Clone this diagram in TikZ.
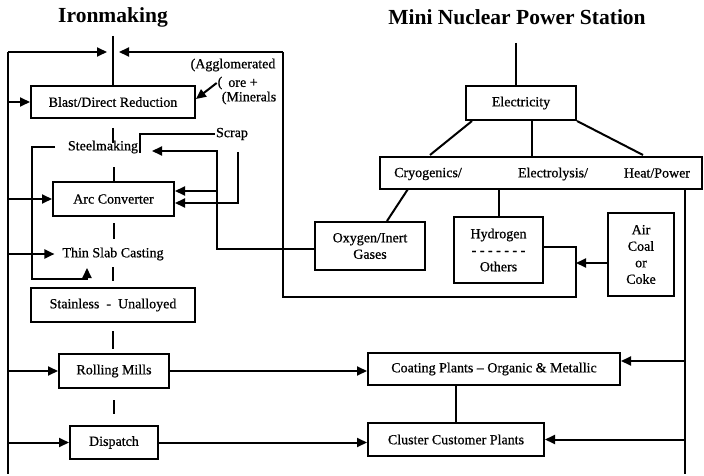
\documentclass[tikz,border=0pt]{standalone}
\usepackage{fontspec}
\setmainfont{Liberation Serif}
\newfontfamily\scanfont{Liberation Serif}[FakeBold=0.7, Ligatures=TeX]
\usetikzlibrary{arrows.meta, positioning}

\begin{document}
\begin{tikzpicture}[x=1pt, y=-1pt, line width=2pt,
    >={Triangle[length=10pt,width=9pt]},
    box/.style={draw, inner sep=0pt, align=center, font=\scanfont\fontsize{14}{16.5}\selectfont},
    lbl/.style={inner sep=0pt, align=center, font=\scanfont\fontsize{14}{16.5}\selectfont},
    ttl/.style={inner sep=0pt, font=\fontsize{21.5}{24}\selectfont\bfseries}]
  \useasboundingbox (0,0) rectangle (704,476);

  % titles
  \node[ttl] (iron) at (113,17) {Ironmaking};
  \node[ttl] (mini) at (517,17) {Mini Nuclear Power Station};

  % steel line, top to bottom
  \node[box, minimum width=164pt, minimum height=32pt] (blast) at (113,102) {Blast/Direct Reduction};
  \node[lbl] (steel) at (103,147) {Steelmaking};
  \node[lbl] (scrap) at (232,134) {Scrap};
  \node[box, minimum width=121pt, minimum height=34pt] (arc) at (113.5,199) {Arc Converter};
  \node[lbl] (thin) at (113,254) {Thin Slab Casting};
  \node[box, minimum width=164pt, minimum height=34pt] (stain) at (113,305) {Stainless\ \ -\ \ Unalloyed};
  \node[box, minimum width=110pt, minimum height=34pt] (roll) at (114,371) {Rolling Mills};
  \node[box, minimum width=88pt, minimum height=33pt] (disp) at (114,442.5) {Dispatch};
  \node[lbl] (agg) at (233,65) {(Agglomerated};
  \node[lbl] (ore) at (243,83) {ore +};
  \node[lbl] (mins) at (249,98) {(Minerals};
  \node[lbl] (brk) at (220,83) {(};

  % nuclear side
  \node[box, minimum width=110pt, minimum height=34pt] (elec) at (521,103) {Electricity};
  \node[box, minimum width=322pt, minimum height=32pt] (use) at (541,173) {};
  \node[lbl] (cryo) at (428,174) {Cryogenics/};
  \node[lbl] (lysis) at (553,174) {Electrolysis/};
  \node[lbl] (heat) at (657,173) {Heat/Power};
  \node[box, minimum width=110pt, minimum height=48pt] (oxy) at (370,246) {Oxygen/Inert\\Gases};
  \node[box, minimum width=89pt, minimum height=66pt] (hyd) at (498.5,250) {Hydrogen\\- - - - - - -\\Others};
  \node[box, minimum width=66pt, minimum height=83pt] (air) at (641,254.5) {Air\\Coal\\or\\Coke};
  \node[box, minimum width=252pt, minimum height=32pt] (coat) at (494,369) {Coating Plants -- Organic \& Metallic};
  \node[box, minimum width=176pt, minimum height=33pt] (clus) at (456,439.5) {Cluster Customer Plants};

  % bus ends and bends
  \coordinate (lt) at (8,52);
  \coordinate (lb) at (8,474);
  \coordinate (rt) at (283,52);
  \coordinate (rb) at (685,474);
  \coordinate (top) at (113,36);
  \coordinate (fl) at (107,52);
  \coordinate (fr) at (119,52);
  \coordinate (stend) at (140,153);
  \coordinate (sd) at (238,152);
  \coordinate (sdb) at (238,203);
  \coordinate (ox) at (217,151);
  \coordinate (stin) at (152,151);
  \coordinate (br) at (217,191);
  \coordinate (lp) at (32,279);
  \coordinate (lpe) at (87,268);
  \coordinate (rl) at (283,297);
  \coordinate (rr) at (576,297);
  \coordinate (aj) at (576,263);
  \coordinate (rc) at (685,361);
  \coordinate (ps) at (516,43);
  \coordinate (dl) at (430,155);
  \coordinate (dr) at (643,155);
  \coordinate (em) at (532,120);
  \coordinate (co) at (408,189);

  % feeds into blast furnace
  \draw (lt) -- (lb);
  \draw (top) -- (blast.north);
  \draw[->] (lt) -- (fl);
  \draw[->] (rt) -- (fr);
  \draw[->] (lt |- blast.west) -- (blast.west);
  \draw[->] (brk.west) -- ([yshift=3pt]blast.east);

  % short links down the column
  \draw ([yshift=-9pt]blast.south) -- ([yshift=-24pt]blast.south);
  \draw ([yshift=14pt]arc.north) -- (arc.north);
  \draw ([yshift=-6pt]arc.south) -- ([yshift=-22pt]arc.south);
  \draw ([yshift=20pt]stain.north) -- ([yshift=6pt]stain.north);
  \draw ([yshift=-8pt]stain.south) -- ([yshift=-26pt]stain.south);
  \draw ([yshift=-11pt]roll.south) -- ([yshift=-25pt]roll.south);

  % scrap and gases
  \draw (scrap.west) -| (stend);
  \draw[->] (sd) -- (sdb) -- (sdb -| arc.east);
  \draw[->] ([yshift=-3pt]oxy.west) -| (ox) -- (stin);
  \draw[->] (br) -- (br -| arc.east);
  \draw[->] ([xshift=-12pt]steel.west) -| (lp) -| (lpe);

  % left bus arrows
  \draw[->] (lt |- arc.west) -- (arc.west);
  \draw[->] (lt |- thin.west) -- ([xshift=-7pt]thin.west);
  \draw[->] (lt |- roll.west) -- (roll.west);
  \draw[->] (lt |- disp.west) -- (disp.west);
  \draw[->] (roll.east) -- (roll.east -| coat.west);
  \draw[->] (disp.east) -- (disp.east -| clus.west);
  \draw (clus.north |- coat.south) -- (clus.north);

  % power side
  \draw (ps) -- (ps |- elec.north);
  \draw ([xshift=7pt]elec.south west) -- (dl);
  \draw (em) -- (em |- use.north);
  \draw (elec.south east) -- (dr);
  \draw (co) -- ([xshift=17pt]oxy.north);
  \draw (hyd.north |- use.south) -- (hyd.north);
  \draw (rt) -- (rl) -- (rr) |- ([yshift=3pt]hyd.east);
  \draw[->] (aj -| air.west) -- (aj);
  \draw (rb |- use.south) -- (rb);
  \draw[->] (rc) -- (rc -| coat.east);
  \draw[->] (rb |- clus.east) -- (clus.east);
\end{tikzpicture}
\end{document}
